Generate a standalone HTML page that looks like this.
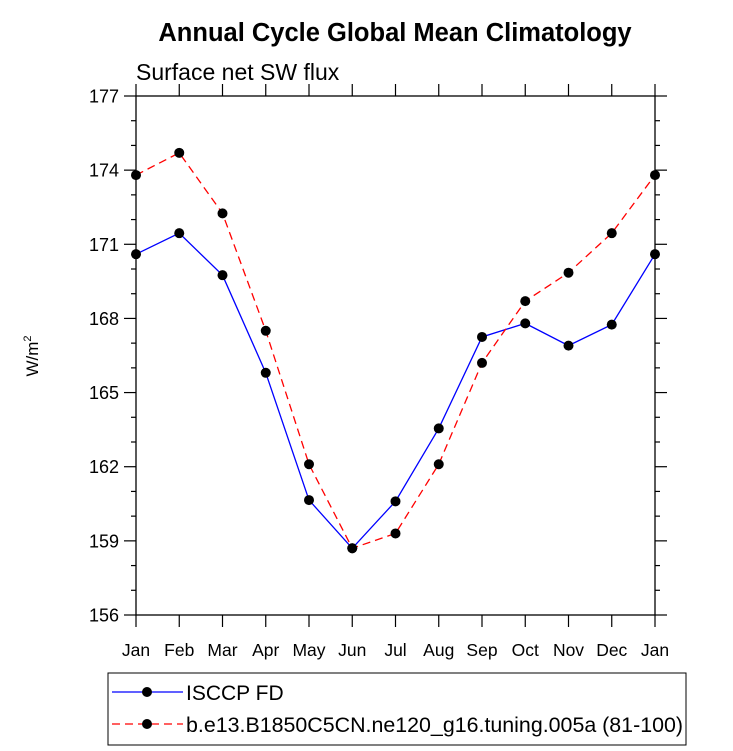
<!DOCTYPE html>
<html><head><meta charset="utf-8"><style>
body{margin:0;background:#fff;}
svg{display:block;font-family:"Liberation Sans",Arial,sans-serif;}
</style></head><body>
<svg id="chart" width="733" height="751" viewBox="0 0 733 751">
<text x="395" y="41" font-size="25.5" font-weight="bold" text-anchor="middle">Annual Cycle Global Mean Climatology</text>
<text x="136" y="80" font-size="23">Surface net SW flux</text>
<text transform="translate(38,356) rotate(-90)" font-size="17" text-anchor="middle">W/m<tspan font-size="11" dy="-7">2</tspan></text>
<g id="axes"></g>
<g id="series"></g>
<rect x="108" y="673" width="578" height="72" fill="none" stroke="#000" stroke-width="1"/>
<g>
<line x1="112" y1="692" x2="183" y2="692" stroke="#0000ff" stroke-width="1.3"/>
<circle cx="147" cy="692" r="5" fill="#000"/>
<text x="186" y="700" font-size="21">ISCCP FD</text>
</g>
<g>
<line x1="112" y1="724" x2="183" y2="724" stroke="#ff0000" stroke-width="1.3" stroke-dasharray="8,5"/>
<circle cx="147" cy="724" r="5" fill="#000"/>
<text x="186" y="732" font-size="21" textLength="497" lengthAdjust="spacingAndGlyphs">b.e13.B1850C5CN.ne120_g16.tuning.005a (81-100)</text>
</g>
</svg>
<script>
const months=["Jan","Feb","Mar","Apr","May","Jun","Jul","Aug","Sep","Oct","Nov","Dec","Jan"];
const yTicks=[156,159,162,165,168,171,174,177];
const isccp=[170.6,171.45,169.75,165.8,160.65,158.7,160.6,163.55,167.25,167.8,166.9,167.75,170.6];
const model=[173.8,174.7,172.25,167.5,162.1,158.7,159.3,162.1,166.2,168.7,169.85,171.45,173.8];
const L=136,R=655,T=96,B=615,ymin=156,ymax=177;
const NS="http://www.w3.org/2000/svg";
const xs=i=>L+(R-L)*i/(months.length-1);
const ys=v=>B-(v-ymin)/(ymax-ymin)*(B-T);
const ax=document.getElementById('axes'),se=document.getElementById('series');
function mk(tag,at,p){const e=document.createElementNS(NS,tag);for(const k in at)e.setAttribute(k,at[k]);p.appendChild(e);return e;}
const fr=mk('rect',{x:L,y:T,width:R-L,height:B-T,fill:'none',stroke:'#000','stroke-width':1.3},ax);


months.forEach((m,i)=>{const x=xs(i);
mk('line',{x1:x,y1:T,x2:x,y2:T-12,stroke:'#000','stroke-width':1.2},ax);
mk('line',{x1:x,y1:B,x2:x,y2:B+12,stroke:'#000','stroke-width':1.2},ax);
const t=mk('text',{x:x,y:B+41,'font-size':17.5,'text-anchor':'middle'},ax);t.textContent=m;

});
for(let v=ymin;v<=ymax;v++){const y=ys(v);const maj=(v-ymin)%3===0;const len=maj?12:5;
mk('line',{x1:L,y1:y,x2:L-len,y2:y,stroke:'#000','stroke-width':1.2},ax);
mk('line',{x1:R,y1:y,x2:R+len,y2:y,stroke:'#000','stroke-width':1.2},ax);}
yTicks.forEach(v=>{const t=mk('text',{x:L-17,y:ys(v)+6.5,'font-size':18,'text-anchor':'end'},ax);t.textContent=v;

});
function draw(vals,color,dash,name){const g=mk('g',{},se);


mk('polyline',{points:vals.map((v,i)=>xs(i)+','+ys(v)).join(' '),fill:'none',stroke:color,'stroke-width':1.3,'stroke-dasharray':dash},g);
vals.forEach((v,i)=>mk('circle',{cx:xs(i),cy:ys(v),r:5,fill:'#000'},g));}
draw(isccp,'#0000ff','none','series-isccp');
draw(model,'#ff0000','8,5','series-model');
</script>
</body></html>
